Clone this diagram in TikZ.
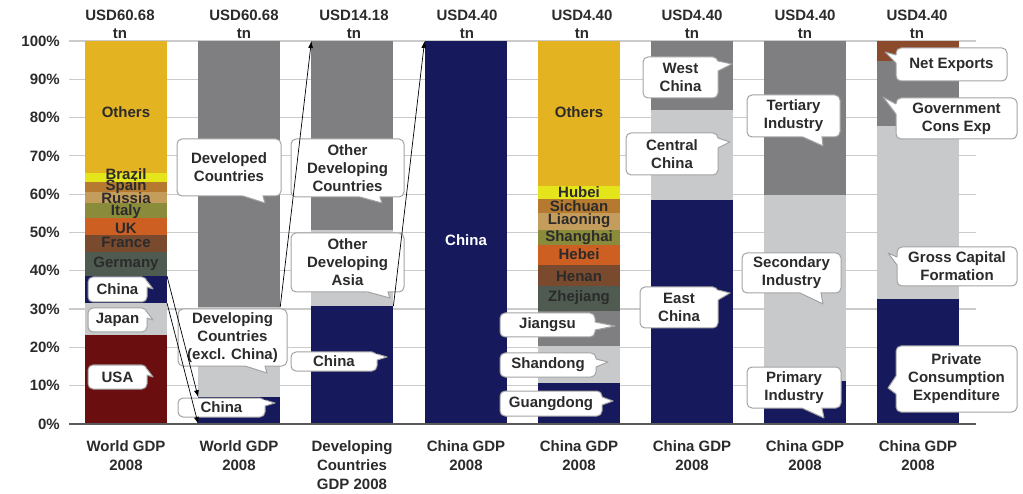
\documentclass[tikz,border=0pt]{standalone}
\usepackage{fontspec}
\setmainfont{Liberation Sans}
\usepackage{tikz}
\usetikzlibrary{positioning,calc,arrows.meta}

\definecolor{navy}{HTML}{161A5C}
\definecolor{gold}{HTML}{E3B322}
\definecolor{lemon}{HTML}{E5E51C}
\definecolor{ochre}{HTML}{B57A30}
\definecolor{sand}{HTML}{C49C5C}
\definecolor{moss}{HTML}{8A8B3B}
\definecolor{rust}{HTML}{CD5F23}
\definecolor{bark}{HTML}{7A4A2F}
\definecolor{slate}{HTML}{4F5B50}
\definecolor{wine}{HTML}{6B0E10}
\definecolor{midgray}{HTML}{7F7F82}
\definecolor{pale}{HTML}{C8C9CB}
\definecolor{netbrown}{HTML}{8B4A2B}
\definecolor{ink}{HTML}{2B2B2B}
\definecolor{gridgray}{HTML}{CBCBCB}
\definecolor{axisgray}{HTML}{5A5A5A}
\definecolor{rim}{HTML}{A3A3A3}

\newcommand{\lblfont}{\fontsize{15}{18}\selectfont\bfseries}
\newcommand{\py}[1]{424-3.83*#1}
% one stacked block of a bar: left x, from %, to %, colour
\newcommand{\seg}[4]{\fill[#4] (#1,{\py{#2}}) rectangle ({#1+82},{\py{#3}});}
% tail of a callout: box, base a, base b, tip
\newcommand{\tail}[4]{%
	\fill[white] #2 -- #4 -- #3 -- ($#3!2.5pt!(#1.center)$) -- ($#2!2.5pt!(#1.center)$) -- cycle;
	\draw[rim, line width=1pt, line join=round] #2 -- #4 -- #3;
}

\begin{document}
\begin{tikzpicture}[
	x=1pt, y=-1pt,
	bubble/.style={draw=rim, fill=white, rounded corners=5pt, line width=1pt, align=center, text=ink, inner sep=0pt, font=\lblfont},
	seglabel/.style={text=ink, inner sep=0pt, font=\lblfont},
	axislabel/.style={text=ink, inner sep=0pt, align=center, font=\lblfont},
	catlabel/.style={text=ink, inner sep=0pt, align=center, anchor=north, font=\fontsize{15}{19}\selectfont\bfseries},
	arr/.style={-{Latex[length=7pt,width=5pt]}, line width=0.7pt, black}
]
	\useasboundingbox (0,0) rectangle (1023,494);

	% grid and percent scale
	\foreach \p in {10,20,...,100}
		\draw[gridgray, line width=1.2pt] (69,{\py{\p}}) -- (976,{\py{\p}});
	\foreach \p in {0,10,...,100}
		\node[axislabel, anchor=east] at (60,{\py{\p}}) {\p\%};

	% World GDP
	\seg{85}{0}{23.2}{wine}
	\seg{85}{23.2}{31.6}{pale}
	\seg{85}{31.6}{38.6}{navy}
	\seg{85}{38.6}{44.9}{slate}
	\seg{85}{44.9}{49.3}{bark}
	\seg{85}{49.3}{53.8}{rust}
	\seg{85}{53.8}{57.7}{moss}
	\seg{85}{57.7}{60.6}{sand}
	\seg{85}{60.6}{63.2}{ochre}
	\seg{85}{63.2}{65.5}{lemon}
	\seg{85}{65.5}{100}{gold}
	% World GDP by group
	\seg{198.2}{0}{7.0}{navy}
	\seg{198.2}{7.0}{30.5}{pale}
	\seg{198.2}{30.5}{100}{midgray}
	% Developing countries
	\seg{311.4}{0}{30.8}{navy}
	\seg{311.4}{30.8}{50.7}{pale}
	\seg{311.4}{50.7}{100}{midgray}
	% China
	\seg{424.6}{0}{100}{navy}
	% China by province
	\seg{537.8}{0}{10.7}{navy}
	\seg{537.8}{10.7}{20.4}{pale}
	\seg{537.8}{20.4}{29.5}{midgray}
	\seg{537.8}{29.5}{36.0}{slate}
	\seg{537.8}{36.0}{41.5}{bark}
	\seg{537.8}{41.5}{46.7}{rust}
	\seg{537.8}{46.7}{50.7}{moss}
	\seg{537.8}{50.7}{55.1}{sand}
	\seg{537.8}{55.1}{58.7}{ochre}
	\seg{537.8}{58.7}{62.1}{lemon}
	\seg{537.8}{62.1}{100}{gold}
	% China by region
	\seg{651}{0}{58.5}{navy}
	\seg{651}{58.5}{82.0}{pale}
	\seg{651}{82.0}{100}{midgray}
	% China by industry
	\seg{764.2}{0}{11.2}{navy}
	\seg{764.2}{11.2}{59.8}{pale}
	\seg{764.2}{59.8}{100}{midgray}
	% China by expenditure
	\seg{877.4}{0}{32.6}{navy}
	\seg{877.4}{32.6}{77.8}{pale}
	\seg{877.4}{77.8}{94.8}{midgray}
	\seg{877.4}{94.8}{100}{netbrown}

	\draw[axisgray, line width=1.5pt] (69,424) -- (976,424);

	% labels printed on the bars
	\path
		(126,112) node[seglabel](others1){Others}
		(126,174) node[seglabel](brazil){Brazil}
		(126,187) node[seglabel](spain){Spain}
		(126,198) node[seglabel](russia){Russia}
		(126,212) node[seglabel](italy){Italy}
		(126,228) node[seglabel](uk){UK}
		(126,242) node[seglabel](france){France}
		(126,264) node[seglabel](germany){Germany}
		(466,240) node[seglabel, text=white](china){China}
		(579,112) node[seglabel](others2){Others}
		(579,192) node[seglabel](hubei){Hubei}
		(579,206) node[seglabel](sichuan){Sichuan}
		(579,221) node[seglabel](liaoning){Liaoning}
		(579,238) node[seglabel](shanghai){Shanghai}
		(579,254) node[seglabel](hebei){Hebei}
		(579,276) node[seglabel](henan){Henan}
		(579,298) node[seglabel](zhejiang){Zhejiang}
	;

	% totals and categories
	\path
		(120,24) node[axislabel](tot1){USD60.68\\tn}
		(244,24) node[axislabel](tot2){USD60.68\\tn}
		(354,24) node[axislabel](tot3){USD14.18\\tn}
		(467,24) node[axislabel](tot4){USD4.40\\tn}
		(582,24) node[axislabel](tot5){USD4.40\\tn}
		(692,24) node[axislabel](tot6){USD4.40\\tn}
		(805,24) node[axislabel](tot7){USD4.40\\tn}
		(917,24) node[axislabel](tot8){USD4.40\\tn}
		(126,440) node[catlabel](cat1){World GDP\\2008}
		(239,440) node[catlabel](cat2){World GDP\\2008}
		(352,440) node[catlabel](cat3){Developing\\Countries\\GDP 2008}
		(466,440) node[catlabel](cat4){China GDP\\2008}
		(579,440) node[catlabel](cat5){China GDP\\2008}
		(692,440) node[catlabel](cat6){China GDP\\2008}
		(805,440) node[catlabel](cat7){China GDP\\2008}
		(918,440) node[catlabel](cat8){China GDP\\2008}
	;

	% callouts
	\node[bubble, minimum width=59, minimum height=25] (chinaW) at (117.5,289.5) {China};
	\tail{chinaW}{(147,281)}{(147,287)}{(153,289)}
	\node[bubble, minimum width=59, minimum height=24] (japan) at (117.5,320) {Japan};
	\tail{japan}{(147,312)}{(147,318)}{(153,320)}
	\node[bubble, minimum width=59, minimum height=24] (usa) at (117.5,377) {USA};
	\tail{usa}{(147,369)}{(147,375)}{(153,377)}

	\node[bubble, minimum width=104, minimum height=57] (developed) at (229,167.5) {Developed\\Countries};
	\tail{developed}{(243,196)}{(263,196)}{(265,203)}
	\node[bubble, minimum width=109, minimum height=57] (developing) at (232.5,337.5) {Developing\\Countries\\(excl. China)};
	\tail{developing}{(245,366)}{(265,366)}{(267,373)}
	\node[bubble, minimum width=87, minimum height=19] (chinaG) at (221.5,407.5) {China};
	\tail{chinaG}{(265,400)}{(265,406)}{(275,403)}

	\node[bubble, minimum width=113, minimum height=58] (otherDev) at (347.5,168) {Other\\Developing\\Countries};
	\tail{otherDev}{(360,197)}{(380,197)}{(382,203)}
	\node[bubble, minimum width=113, minimum height=59] (otherAsia) at (347.5,262.5) {Other\\Developing\\Asia};
	\tail{otherAsia}{(368,292)}{(388,292)}{(390,298)}
	\node[bubble, minimum width=86, minimum height=19] (chinaD) at (334,361.5) {China};
	\tail{chinaD}{(377,354)}{(377,360)}{(387,357)}

	\node[bubble, minimum width=95, minimum height=24] (jiangsu) at (547.5,325) {Jiangsu};
	\tail{jiangsu}{(595,322)}{(595,330)}{(615,326)}
	\node[bubble, minimum width=96, minimum height=24] (shandong) at (548,365) {Shandong};
	\tail{shandong}{(596,359)}{(596,367)}{(608,362)}
	\node[bubble, minimum width=102, minimum height=25] (guangdong) at (551,403.5) {Guangdong};
	\tail{guangdong}{(602,397)}{(602,405)}{(613,401)}

	\node[bubble, minimum width=75, minimum height=41] (west) at (680.5,77.5) {West\\China};
	\tail{west}{(718,61)}{(718,71)}{(732,64)}
	\node[bubble, minimum width=92, minimum height=42] (central) at (672,154) {Central\\China};
	\tail{central}{(718,138)}{(718,148)}{(730,142)}
	\node[bubble, minimum width=78, minimum height=41] (east) at (679,307.5) {East\\China};
	\tail{east}{(718,290)}{(718,300)}{(730,293)}

	\node[bubble, minimum width=93, minimum height=42] (tertiary) at (793.5,116) {Tertiary\\Industry};
	\tail{tertiary}{(803,137)}{(822,137)}{(823,146)}
	\node[bubble, minimum width=99, minimum height=40] (secondary) at (791.5,273) {Secondary\\Industry};
	\tail{secondary}{(800,293)}{(821,293)}{(823,304)}
	\node[bubble, minimum width=94, minimum height=41] (primary) at (794,387.5) {Primary\\Industry};
	\tail{primary}{(802,408)}{(822,408)}{(824,418)}

	\node[bubble, minimum width=111, minimum height=33] (netexp) at (951.5,64.5) {Net Exports};
	\tail{netexp}{(896,55)}{(896,63)}{(885,52)}
	\node[bubble, minimum width=121, minimum height=41] (govexp) at (956.5,118.5) {Government\\Cons Exp};
	\tail{govexp}{(896,104)}{(896,114)}{(883,97)}
	\node[bubble, minimum width=120, minimum height=39] (gross) at (957,266.5) {Gross Capital\\Formation};
	\tail{gross}{(897,257)}{(897,265)}{(888,253)}
	\node[bubble, minimum width=121, minimum height=66] (private) at (956.5,379) {Private\\Consumption\\Expenditure};
	\tail{private}{(896,376)}{(896,394)}{(888,388)}

	% links between the bars
	\coordinate (w1cnTop) at (167,{\py{38.6}});
	\coordinate (w1cnBot) at (167,{\py{31.6}});
	\coordinate (w2cnTop) at (198.2,{\py{7.0}});
	\coordinate (w2cnBot) at (198.2,{\py{0}});
	\coordinate (w2devTop) at (280.2,{\py{30.5}});
	\coordinate (dvTop) at (311.4,{\py{100}});
	\coordinate (dvcnTop) at (393.4,{\py{30.8}});
	\coordinate (cnTop) at (424.6,{\py{100}});
	\draw[arr] (w1cnTop) -- (w2cnTop);
	\draw[arr] (w1cnBot) -- (w2cnBot);
	\draw[arr] (w2devTop) -- (dvTop);
	\draw[arr] (dvcnTop) -- (cnTop);
\end{tikzpicture}
\end{document}
